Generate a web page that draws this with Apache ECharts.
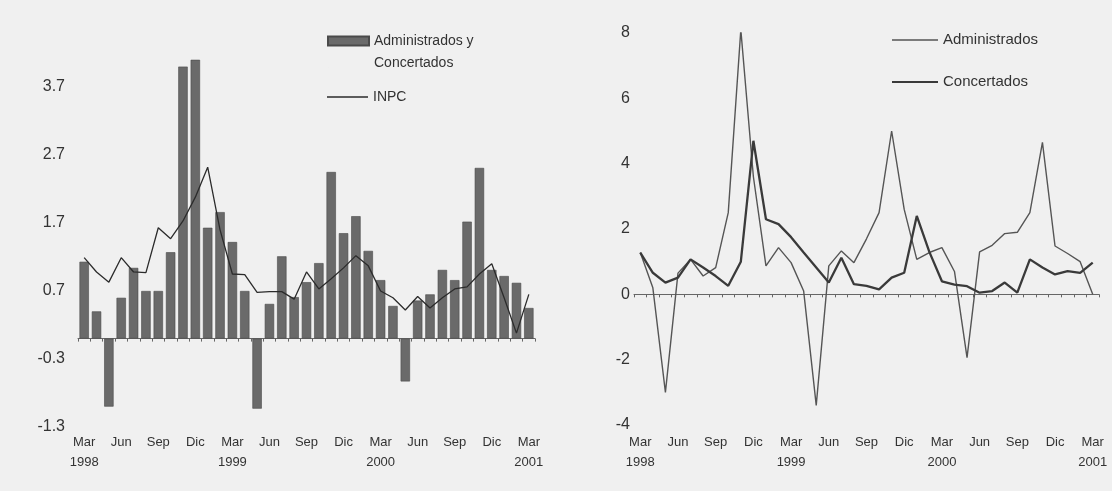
<!DOCTYPE html>
<html>
<head>
<meta charset="utf-8">
<script src="https://cdn.jsdelivr.net/npm/echarts/dist/echarts.min.js"></script>
<style>
  html, body { margin: 0; padding: 0; background: #f0f0f0; }
  #chart { width: 1112px; height: 491px; }
</style>
</head>
<body>
<div id="chart"></div>
<script>
// meses Mar 1998 - Mar 2001
var months = [
  'Mar\n1998', 'Abr', 'May', 'Jun', 'Jul', 'Ago', 'Sep', 'Oct', 'Nov', 'Dic',
  'Ene', 'Feb', 'Mar\n1999', 'Abr', 'May', 'Jun', 'Jul', 'Ago', 'Sep', 'Oct', 'Nov', 'Dic',
  'Ene', 'Feb', 'Mar\n2000', 'Abr', 'May', 'Jun', 'Jul', 'Ago', 'Sep', 'Oct', 'Nov', 'Dic',
  'Ene', 'Feb', 'Mar\n2001'
];

// panel izquierdo: variacion mensual
var adminConcert = [1.13, 0.4, -1.0, 0.6, 1.04, 0.7, 0.7, 1.27, 4.0, 4.1, 1.63, 1.86,
  1.42, 0.7, -1.03, 0.51, 1.21, 0.61, 0.83, 1.11, 2.45, 1.55, 1.8, 1.29,
  0.86, 0.48, -0.63, 0.56, 0.65, 1.01, 0.86, 1.72, 2.51, 1.01, 0.92, 0.82, 0.45];
var inpc = [1.19, 0.98, 0.83, 1.19, 0.98, 0.97, 1.63, 1.47, 1.73, 2.08, 2.52, 1.6,
  0.95, 0.94, 0.68, 0.69, 0.69, 0.58, 0.98, 0.73, 0.88, 1.04, 1.22, 1.07,
  0.7, 0.6, 0.42, 0.62, 0.45, 0.6, 0.73, 0.76, 0.95, 1.1, 0.6, 0.08, 0.65];

// panel derecho
var administrados = [1.28, 0.2, -3.0, 0.65, 1.07, 0.56, 0.82, 2.5, 8.1, 3.6, 0.87, 1.43,
  0.97, 0.1, -3.4, 0.87, 1.33, 0.97, 1.7, 2.5, 5.0, 2.6, 1.07, 1.28,
  1.43, 0.7, -1.94, 1.3, 1.5, 1.86, 1.9, 2.5, 4.65, 1.48, 1.25, 1.0, 0.0];
var concertados = [1.28, 0.66, 0.36, 0.51, 1.07, 0.82, 0.56, 0.26, 1.0, 4.7, 2.3, 2.15,
  1.75, 1.28, 0.82, 0.36, 1.12, 0.31, 0.26, 0.15, 0.51, 0.66, 2.4, 1.3,
  0.4, 0.3, 0.25, 0.05, 0.1, 0.36, 0.05, 1.07, 0.82, 0.61, 0.71, 0.66, 0.97];

var leftTicks = [-1.3, -0.3, 0.7, 1.7, 2.7, 3.7];
var rightTicks = [-4, -2, 0, 2, 4, 6, 8];

var font = 'Liberation Sans, Arial, sans-serif';
var txt = '#333';

var myChart = echarts.init(document.getElementById('chart'));

// eje en cero: linea y marcas, sin etiquetas
function zeroAxis(grid) {
  return {
    gridIndex: grid,
    type: 'category',
    data: months,
    boundaryGap: true,
    position: 'bottom',
    axisLine: { onZero: true, lineStyle: { color: '#666', width: 1 } },
    axisTick: { show: true, interval: 0, length: 3, lineStyle: { color: '#666' } },
    axisLabel: { show: false },
    splitLine: { show: false }
  };
}
// eje inferior: solo etiquetas de meses
function labelAxis(grid, margin) {
  return {
    gridIndex: grid,
    type: 'category',
    data: months,
    boundaryGap: true,
    position: 'bottom',
    axisLine: { show: false, onZero: false },
    axisTick: { show: false },
    axisLabel: {
      interval: 2,
      margin: margin,
      fontSize: 13,
      lineHeight: 20,
      color: txt,
      fontFamily: font
    },
    splitLine: { show: false }
  };
}

myChart.setOption({
  backgroundColor: '#f0f0f0',
  animation: false,
  grid: [
    { left: 78, top: 53, width: 457, height: 374 },
    { left: 634, top: 33, width: 465, height: 392 }
  ],
  legend: [
    {
      data: ['Administrados y\nConcertados'],
      left: 327, top: 30, padding: 0, selectedMode: false,
      icon: 'path://M0 0H41V9H0Z M0 31L0.01 31', itemWidth: 41, itemHeight: 31,
      textStyle: { fontSize: 14, color: txt, fontFamily: font, lineHeight: 22 }
    },
    {
      data: ['INPC'],
      left: 327, top: 89, padding: 0, selectedMode: false,
      icon: 'rect', itemWidth: 41, itemHeight: 1.5,
      textStyle: { fontSize: 14, color: txt, fontFamily: font, lineHeight: 16 }
    },
    {
      data: ['Administrados'],
      left: 892, top: 32, padding: 0, selectedMode: false,
      icon: 'rect', itemWidth: 46, itemHeight: 1.5,
      textStyle: { fontSize: 15, color: txt, fontFamily: font, lineHeight: 16 }
    },
    {
      data: ['Concertados'],
      left: 892, top: 74, padding: 0, selectedMode: false,
      icon: 'rect', itemWidth: 46, itemHeight: 2,
      textStyle: { fontSize: 15, color: txt, fontFamily: font, lineHeight: 16 }
    }
  ],
  xAxis: [zeroAxis(0), labelAxis(0, 5), zeroAxis(1), labelAxis(1, 7)],
  yAxis: [
    {
      gridIndex: 0, type: 'value', min: -1.3, max: 4.2, interval: 1,
      axisLine: { show: false }, axisTick: { show: false }, splitLine: { show: false },
      axisLabel: {
        margin: 13, fontSize: 16, color: txt, fontFamily: font,
        formatter: function (v) {
          for (var i = 0; i < leftTicks.length; i++) {
            if (Math.abs(v - leftTicks[i]) < 0.01) return leftTicks[i].toFixed(1);
          }
          return '';
        }
      }
    },
    {
      gridIndex: 1, type: 'value', min: -4, max: 8, interval: 2,
      axisLine: { show: false }, axisTick: { show: false }, splitLine: { show: false },
      axisLabel: {
        margin: 4, fontSize: 16, color: txt, fontFamily: font,
        formatter: function (v) {
          return rightTicks.indexOf(Math.round(v)) >= 0 ? String(Math.round(v)) : '';
        }
      }
    }
  ],
  series: [
    {
      name: 'Administrados y\nConcertados',
      type: 'bar',
      xAxisIndex: 0, yAxisIndex: 0,
      data: adminConcert,
      barCategoryGap: '24%',
      itemStyle: { color: '#6a6a6a', borderColor: '#4a4a4a', borderWidth: 0.6 },
      z: 2
    },
    {
      name: 'INPC',
      type: 'line',
      xAxisIndex: 0, yAxisIndex: 0,
      data: inpc,
      symbol: 'none',
      lineStyle: { color: '#2b2b2b', width: 1.3 },
      itemStyle: { color: '#2b2b2b' },
      z: 3
    },
    {
      name: 'Administrados',
      type: 'line',
      xAxisIndex: 2, yAxisIndex: 1,
      data: administrados,
      symbol: 'none',
      lineStyle: { color: '#555', width: 1.4 },
      itemStyle: { color: '#555' }
    },
    {
      name: 'Concertados',
      type: 'line',
      xAxisIndex: 2, yAxisIndex: 1,
      data: concertados,
      symbol: 'none',
      lineStyle: { color: '#3a3a3a', width: 2.3 },
      itemStyle: { color: '#3a3a3a' }
    }
  ]
});
</script>
</body>
</html>
